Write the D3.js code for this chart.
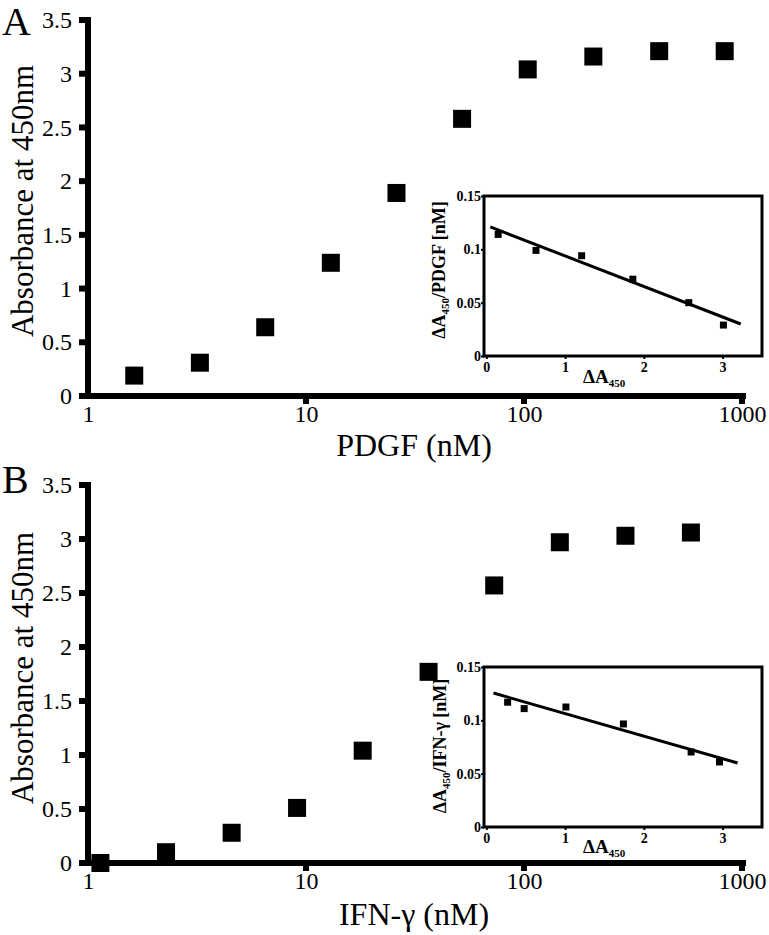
<!DOCTYPE html>
<html><head><meta charset="utf-8">
<script src="https://cdn.jsdelivr.net/npm/d3@7"></script>
<style>body{margin:0;background:#fff}svg{display:block}</style>
</head><body><svg id="c" width="769" height="935" xmlns="http://www.w3.org/2000/svg"></svg>
<script>
// ---- data ----
const concA = [1.63, 3.26, 6.5, 13, 26, 52, 104, 208, 417, 833];
const absA  = [0.19, 0.31, 0.64, 1.24, 1.89, 2.58, 3.04, 3.16, 3.21, 3.21];
const concB = [1.14, 2.28, 4.56, 9.1, 18.2, 36.5, 73, 146, 292, 583];
const absB  = [0.0, 0.10, 0.28, 0.51, 1.04, 1.77, 2.57, 2.97, 3.03, 3.06];
const insetAx = [0.15, 0.63, 1.21, 1.86, 2.57, 3.01];
const insetAy = [0.114, 0.099, 0.094, 0.072, 0.050, 0.029];
const insetBx = [0.27, 0.48, 1.01, 1.74, 2.60, 2.96];
const insetBy = [0.117, 0.111, 0.1125, 0.0966, 0.0703, 0.061];
const fitAx = [0.05, 3.23];
const fitAy = [0.121, 0.030];
const fitBx = [0.09, 3.19];
const fitBy = [0.1256, 0.060];
const mainYTicks = [0, 0.5, 1, 1.5, 2, 2.5, 3, 3.5];
const mainXTicks = [1, 10, 100, 1000];
const insetYTicks = [0, 0.05, 0.1, 0.15];
const insetXTicks = [0, 1, 2, 3];
const panelLetters = ["A", "B"];
const xTitles = ["PDGF (nM)", "IFN-γ (nM)"];
const yTitle = "Absorbance at 450nm";
const insetYTitles = ["/PDGF [nM]", "/IFN-γ [nM]"];
const insetSub = "450";

// ---- layout ----
const svg = d3.select("#c");
const SERIF = "'Liberation Serif','Times New Roman',serif";
const AXW = 6;

const panels = [
  {letter: panelLetters[0], conc: concA, abs: absA, xTitle: xTitles[0],
   y0: 396, yTop: 20, letterY: 35, yTitleY: 201, xTitleY: 456,
   ins: {x: insetAx, y: insetAy, fx: fitAx, fy: fitAy, title: insetYTitles[0],
         left: 484, right: 762, top: 196, bottom: 356, titleX: 445, titleY: 270, xlabY: 383}},
  {letter: panelLetters[1], conc: concB, abs: absB, xTitle: xTitles[1],
   y0: 863, yTop: 485, letterY: 493, yTitleY: 668, xTitleY: 925,
   ins: {x: insetBx, y: insetBy, fx: fitBx, fy: fitBy, title: insetYTitles[1],
         left: 484, right: 762, top: 667, bottom: 827, titleX: 446, titleY: 746, xlabY: 853}}
];

function styleText(sel, size, bold) {
  sel.selectAll(".tick text").attr("font-family", SERIF).attr("font-size", size)
    .attr("font-weight", bold ? "bold" : "normal").attr("fill", "#000");
}

panels.forEach(p => {
  const g = svg.append("g");
  const x = d3.scaleLog().domain([1, 1000]).range([88, 742]);
  const y = d3.scaleLinear().domain([0, 3.5]).range([p.y0, p.yTop]);

  const ya = g.append("g").attr("transform", "translate(88,0)")
    .call(d3.axisLeft(y).tickValues(mainYTicks).tickFormat(d => String(d))
      .tickSizeInner(7).tickSizeOuter(0).tickPadding(9));
  ya.select(".domain").remove();
  ya.selectAll(".tick line").remove();
  styleText(ya, 24, false);
  const xa = g.append("g").attr("transform", `translate(0,${p.y0})`)
    .call(d3.axisBottom(x).tickValues(mainXTicks).tickFormat(d3.format("d"))
      .tickSizeInner(6).tickSizeOuter(0).tickPadding(3));
  xa.select(".domain").remove();
  xa.selectAll(".tick line").remove();
  styleText(xa, 24, false);

  const [yb, yt] = y.range();
  const [xl, xr] = x.range();
  g.append("rect").attr("x", xl - AXW / 2).attr("y", yt - 3).attr("width", AXW).attr("height", yb - yt + 6).attr("fill", "#000");
  g.append("rect").attr("x", xl - 4).attr("y", yb - AXW / 2).attr("width", xr - xl + 8).attr("height", AXW).attr("fill", "#000");
  g.append("g").selectAll("rect").data(mainYTicks).join("rect")
    .attr("x", xl - 9).attr("y", d => y(d) - 3).attr("width", 9).attr("height", 6).attr("fill", "#000");
  g.append("g").selectAll("rect").data(mainXTicks.slice(1)).join("rect")
    .attr("x", d => x(d) - 3).attr("y", yb).attr("width", 6).attr("height", 8).attr("fill", "#000");

  g.append("g").selectAll("rect").data(p.conc).join("rect")
    .attr("x", d => x(d) - 9).attr("y", (d, i) => y(p.abs[i]) - 9)
    .attr("width", 18).attr("height", 18).attr("fill", "#000");

  g.append("text").attr("x", 2).attr("y", p.letterY).text(p.letter)
    .attr("font-family", SERIF).attr("font-size", 40).attr("fill", "#000");
  g.append("text").attr("transform", `translate(33,${p.yTitleY}) rotate(-90)`)
    .attr("text-anchor", "middle").text(yTitle)
    .attr("font-family", SERIF).attr("font-size", 31).attr("fill", "#000");
  g.append("text").attr("x", 414).attr("y", p.xTitleY).attr("text-anchor", "middle").text(p.xTitle)
    .attr("font-family", SERIF).attr("font-size", 32).attr("fill", "#000");

  const s = p.ins;
  const ix = d3.scaleLinear().domain([-0.03, 3.5]).range([s.left, s.right]);
  const iy = d3.scaleLinear().domain([0, 0.15]).range([s.bottom, s.top]);
  const ig = g.append("g");
  ig.append("rect").attr("x", s.left).attr("y", s.top)
    .attr("width", s.right - s.left).attr("height", s.bottom - s.top)
    .attr("fill", "#fff").attr("stroke", "#000").attr("stroke-width", 3);
  const iya = ig.append("g").attr("transform", `translate(${s.left},0)`)
    .call(d3.axisLeft(iy).tickValues(insetYTicks).tickFormat(d => String(d))
      .tickSizeInner(3).tickSizeOuter(0).tickPadding(0));
  iya.select(".domain").remove();
  iya.selectAll(".tick line").attr("stroke", "#000").attr("stroke-width", 2);
  styleText(iya, 14, true);
  const ixa = ig.append("g").attr("transform", `translate(0,${s.bottom})`)
    .call(d3.axisBottom(ix).tickValues(insetXTicks).tickFormat(d => String(d))
      .tickSizeInner(3).tickSizeOuter(0).tickPadding(3));
  ixa.select(".domain").remove();
  ixa.selectAll(".tick line").attr("stroke", "#000").attr("stroke-width", 2);
  styleText(ixa, 14, true);

  ig.append("path").datum(d3.zip(s.fx, s.fy))
    .attr("d", d3.line().x(d => ix(d[0])).y(d => iy(d[1])))
    .attr("stroke", "#000").attr("stroke-width", 3).attr("fill", "none");
  ig.append("g").selectAll("rect").data(s.x).join("rect")
    .attr("x", d => ix(d) - 3.5).attr("y", (d, i) => iy(s.y[i]) - 3.5)
    .attr("width", 7).attr("height", 7).attr("fill", "#000");

  const ytt = ig.append("text").attr("transform", `translate(${s.titleX},${s.titleY}) rotate(-90)`)
    .attr("text-anchor", "middle").attr("font-family", SERIF).attr("font-weight", "bold")
    .attr("font-size", 18).attr("fill", "#000");
  ytt.append("tspan").text("ΔA");
  ytt.append("tspan").attr("font-size", 11).attr("dy", 4).text(insetSub);
  ytt.append("tspan").attr("dy", -4).text(s.title);

  const xt = ig.append("text").attr("x", 583).attr("y", s.xlabY)
    .attr("font-family", SERIF).attr("font-weight", "bold")
    .attr("font-size", 19).attr("fill", "#000");
  xt.append("tspan").text("ΔA");
  xt.append("tspan").attr("font-size", 11).attr("dy", 4).text(insetSub);
});
</script></body></html>
